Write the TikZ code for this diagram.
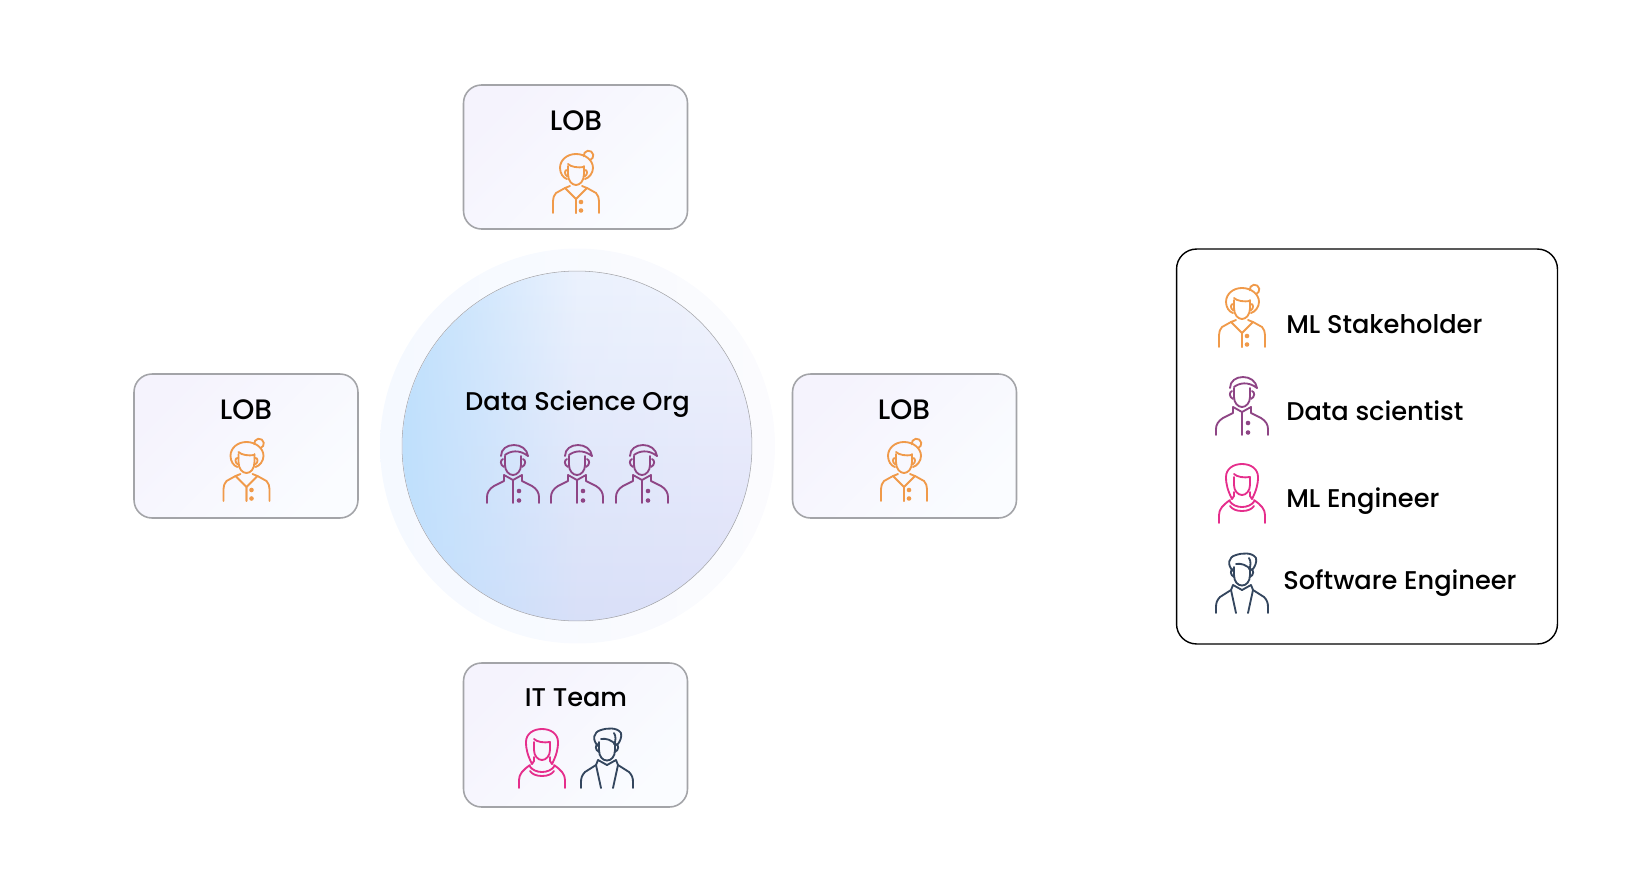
\documentclass[tikz,border=0pt]{standalone}
\usepackage{fontspec}
\setmainfont{Poppins Medium}
\usetikzlibrary{fadings}
\definecolor{stakeorange}{HTML}{F09A4A}
\definecolor{sciencepurple}{HTML}{8E4585}
\definecolor{mlpink}{HTML}{E52E8C}
\definecolor{softnavy}{HTML}{34465E}
\definecolor{boxborder}{HTML}{A3A4A8}
\definecolor{boxstart}{HTML}{F5F3FD}
\definecolor{boxend}{HTML}{FAFCFF}
\definecolor{orgtop}{HTML}{F3F5FD}
\definecolor{orgbottom}{HTML}{DDE0F8}
\definecolor{orgblue}{HTML}{BFE0FD}
\definecolor{halostart}{HTML}{F5F9FF}
\definecolor{haloend}{HTML}{FBFBFE}
\tikzfading[name=fadeblue,left color=transparent!0,right color=transparent!100,middle color=transparent!85]
\tikzset{
	iconline/.style={line width=1.05pt,line cap=round,line join=round},
	stakeholder/.pic={
		\begin{scope}[iconline,draw=stakeorange]
			\foreach \s in {-1,1}{
				\draw[xscale=\s] (0,-28) .. controls (4,-28) and (8,-32) .. (8,-39) -- (8,-47);
				\draw[xscale=\s] (8,-43) .. controls (12,-44) and (12,-38) .. (8.5,-36.5);
				\draw[xscale=\s] (6,-27) -- (11,-25) -- (0,-14) -- (0,0);
				\draw[xscale=\s] (11,-25) -- (20,-20) .. controls (22,-18) and (23,-15) .. (23,-12) -- (23,0);
			}
			\draw (-9,-34) .. controls (-13,-35) and (-16,-40) .. (-16,-45) .. controls (-16,-53) and (-9,-59) .. (0,-59) .. controls (9,-59) and (17,-53) .. (17,-45) .. controls (17,-40) and (13,-35) .. (9,-34);
			\draw (12.5,-57.5) ++(170:4.8) arc (170:430:4.8);
			\draw (-8,-49) .. controls (-5,-46) and (2,-45) .. (8,-46);
			\fill[stakeorange] (5,-11) circle (2.3) (5,-2.5) circle (2.3);
		\end{scope}
	},
	scientist/.pic={
		\begin{scope}[iconline,draw=sciencepurple]
			\foreach \s in {-1,1}{
				\draw[xscale=\s] (0,-28) .. controls (4,-28) and (8,-32) .. (8,-38) -- (8,-47);
				\draw[xscale=\s] (-10,-44) .. controls (-13,-43) and (-13,-38) .. (-9,-36);
				\draw[xscale=\s] (0,-23) -- (-9,-28) -- (-9,-22) -- (-19,-17) .. controls (-24,-14) and (-26,-10) .. (-26,-6) -- (-26,0);
			}
			\draw (-12,-47) .. controls (-12,-54) and (-6,-58) .. (1,-58) .. controls (8,-58) and (14,-54) .. (15,-47);
			\draw (-8,-48) .. controls (-3,-52) and (6,-54) .. (15,-47);
			\draw (0,-23) -- (0,0);
			\fill[sciencepurple] (6,-12) circle (2.3) (6,-2.5) circle (2.3);
		\end{scope}
	},
	mlengineer/.pic={
		\begin{scope}[iconline,draw=mlpink]
			\foreach \s in {-1,1}{
				\draw[xscale=\s] (0,-28) .. controls (4,-28) and (8,-32) .. (8,-38) -- (8,-46);
				\draw[xscale=\s] (0,-59) .. controls (9,-59) and (16,-54) .. (16,-46) .. controls (16,-38) and (14,-32) .. (10,-24);
				\draw[xscale=\s] (12,-23) .. controls (19,-18) and (23,-14) .. (23,-8) -- (23,0);
				\draw[xscale=\s] (0,-12) .. controls (6,-12) and (10,-14) .. (12,-17);
				\draw[xscale=\s] (0,-16) .. controls (5,-16) and (10,-18) .. (12.5,-22);
				\draw[xscale=\s] (8,-31) -- (8,-27) -- (10,-24);
			}
			\draw (-8,-49) .. controls (-5,-46) and (2,-45) .. (8,-46);
		\end{scope}
	},
	softengineer/.pic={
		\begin{scope}[iconline,draw=softnavy]
			\foreach \s in {-1,1}{
				\draw[xscale=\s] (0,-27.5) .. controls (4,-27.5) and (8,-31) .. (8,-38) -- (8,-46);
				\draw[xscale=\s] (-9,-44) .. controls (-12,-43) and (-12,-38) .. (-8,-36);
				\draw[xscale=\s] (0,-23) -- (-9,-28) -- (-11,-23) -- (-22,-16) .. controls (-25,-13) and (-26,-10) .. (-26,-6) -- (-26,0);
				\draw[xscale=\s] (-11,-23) -- (-6,0);
			}
			\draw (-9,-42) .. controls (-15,-48) and (-14,-56) .. (-6,-58) .. controls (0,-60) and (10,-61) .. (14,-55) .. controls (15,-51) and (13,-46) .. (10,-43);
			\draw (-6,-49) .. controls (-1,-50) and (5,-48) .. (9,-43);
			\draw (7,-55) .. controls (9,-52) and (9,-47) .. (7,-44);
		\end{scope}
	}
}
\newcommand{\labelsize}{\fontsize{14.6}{16}\selectfont}
\begin{document}
\begin{tikzpicture}[x=.02cm,y=-.02cm,
		lobbox/.style={rounded corners=.36cm,draw=boxborder,line width=.9pt,minimum width=4.48cm,minimum height=2.88cm,
			top color=boxstart,bottom color=boxend,shading angle=45},
		lobtitle/.style={inner sep=0pt,anchor=base,font=\labelsize,text=black},
		bigtitle/.style={lobtitle,font=\fontsize{16}{18}\selectfont},
		legendtext/.style={lobtitle,anchor=base west}]
	\useasboundingbox (0,0) rectangle (1650,879);
	% centre circle
	\node[circle,inner sep=0pt,minimum size=7.9cm,left color=halostart,right color=haloend] (halo) at (577.5,446) {};
	\node[circle,inner sep=0pt,minimum size=7cm,draw=boxborder,line width=.3pt,top color=orgtop,bottom color=orgbottom] (org) at (577,446) {};
	\fill[orgblue,path fading=fadeblue] (org.center) circle (174.5);
	\node[lobtitle] (orgtitle) at (577.5,410.5) {Data Science Org};
	\foreach \x/\n in {513/a,577/b,642/c}
	{\pic (sci\n) at (\x,503) {scientist};}
	% boxes round the circle
	\node[lobbox] (lobtop) at (575.5,157) {};
	\node[lobbox] (lobleft) at (246,446) {};
	\node[lobbox] (lobright) at (904.5,446) {};
	\node[lobbox] (itteam) at (575.5,735) {};
	\node[bigtitle] (lobtoptitle) at (576,130) {LOB};
	\node[bigtitle] (oblefttitle) at (246,419) {LOB};
	\node[bigtitle] (lobrighttitle) at (904,419) {LOB};
	\node[lobtitle] (ittitle) at (576,706.5) {IT Team};
	\pic (stakea) at (576,213) {stakeholder};
	\pic (stakeb) at (246.5,501) {stakeholder};
	\pic (stakec) at (904,501) {stakeholder};
	\pic (mlb) at (542,788) {mlengineer};
	\pic (softb) at (607,788) {softengineer};
	% legend
	\node[draw=black,line width=.8pt,rounded corners=.4cm,minimum width=7.62cm,minimum height=7.9cm] (legend) at (1367,446.5) {};
	\pic (stakel) at (1242,347) {stakeholder};
	\pic (scil) at (1242,435) {scientist};
	\pic (mll) at (1242,523) {mlengineer};
	\pic (softl) at (1242,613) {softengineer};
	\node[legendtext] (stakelabel) at (1286,333) {ML Stakeholder};
	\node[legendtext] (scilabel) at (1286,420) {Data scientist};
	\node[legendtext] (mllabel) at (1286,507) {ML Engineer};
	\node[legendtext] (softlabel) at (1283,589) {Software Engineer};
\end{tikzpicture}
\end{document}
